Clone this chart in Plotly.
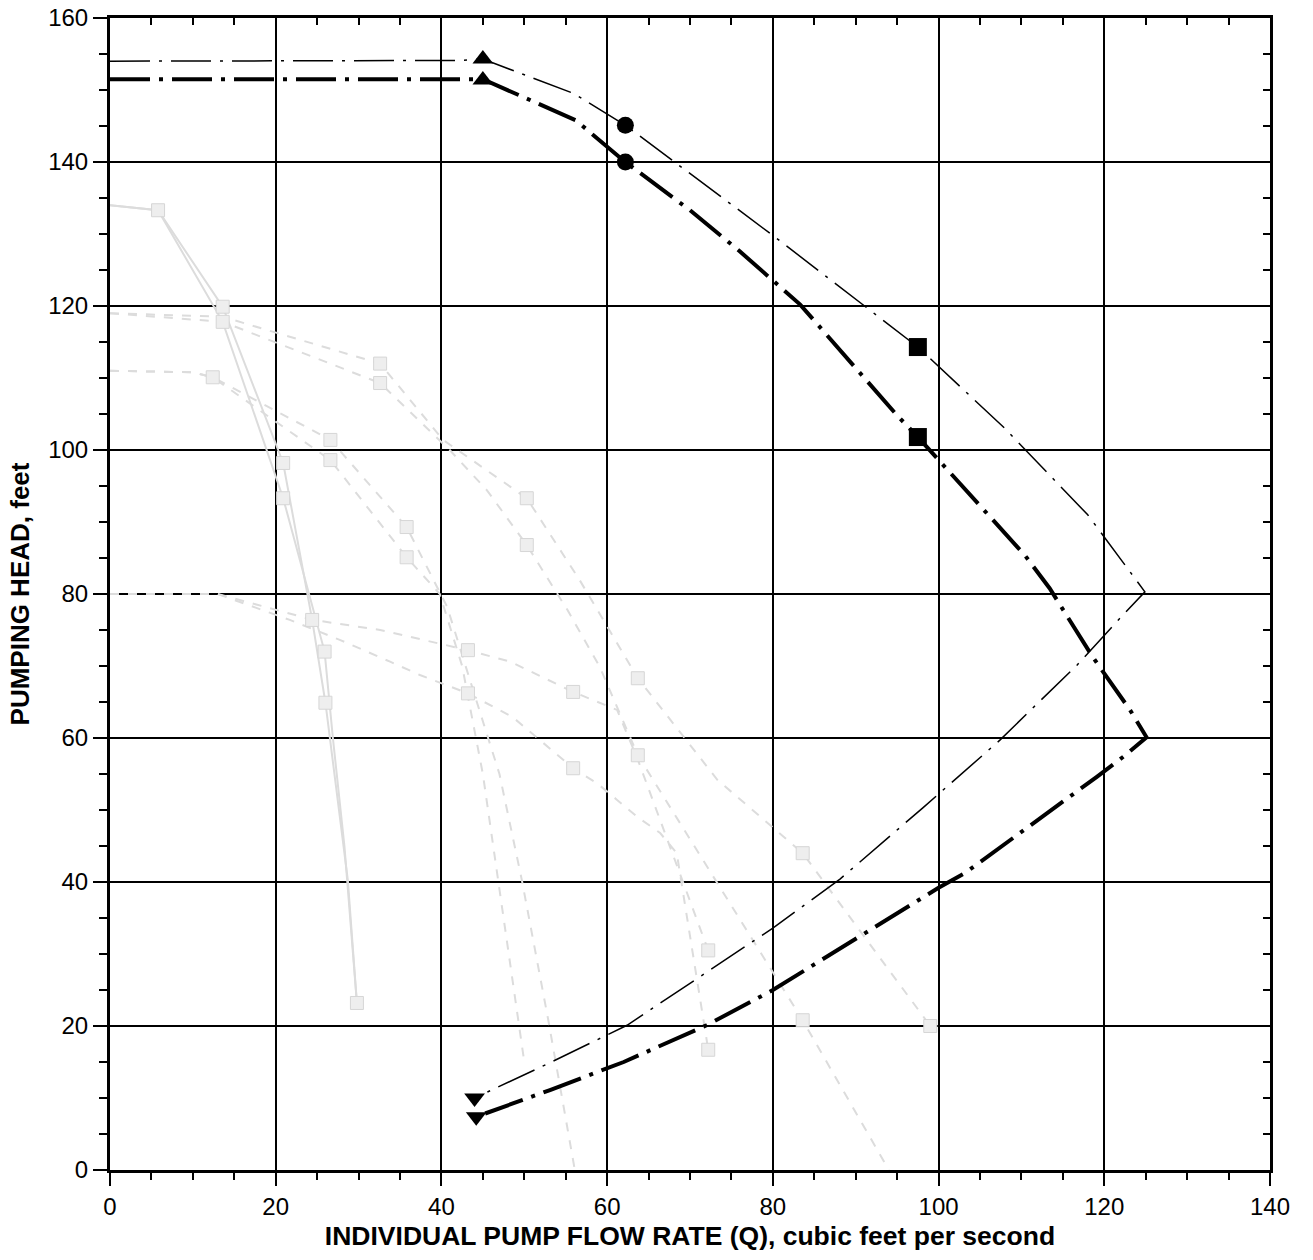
import plotly.graph_objects as go

# ---------------- dark system / pump curves ----------------
thin_x = [0, 42, 45, 56, 62.2, 80, 97.5, 108, 118, 124.9, 121.7, 116.7, 111.4, 107.4, 98.1, 88.1, 80, 62.4, 53.1, 44]
thin_y = [154, 154.1, 154.3, 149.5, 145.1, 129.8, 114.3, 103, 91, 80.3, 76.4, 70.1, 64.2, 59.7, 50.3, 40.4, 33.6, 20.1, 14.9, 10]

thick_x = [0, 45, 56.2, 62.2, 70, 76, 83.3, 90, 95, 97.5, 107.4, 110.4, 113.4, 118.6, 123.1, 125.1,
           122.3, 119.1, 103.2, 100, 80, 72, 62, 53.1, 44.2]
thick_y = [151.5, 151.5, 145.8, 140, 133.3, 127.6, 120.2, 111.4, 104.8, 101.8, 89.3, 85.4, 80.8, 71.25, 63.9, 60.1,
           57.4, 54.6, 41.25, 39.2, 25, 20.1, 15, 11.1, 7.4]

tri_up_x = [45, 45]
tri_up_y = [154.3, 151.4]
circ_x = [62.2, 62.2]
circ_y = [145.1, 140.0]
sq_x = [97.5, 97.5]
sq_y = [114.3, 101.8]
tri_dn_x = [44, 44.2]
tri_dn_y = [10, 7.4]

# ---------------- faint background curves ----------------
p1a_x = [0, 5.8, 13.6, 20.9, 24.4, 26.0, 28.7, 29.8]
p1a_y = [134, 133.3, 119.9, 98.2, 76.4, 64.9, 40.3, 23.2]
p1b_x = [0, 5.8, 13.6, 20.9, 25.9, 26.9, 28.3, 29.8]
p1b_y = [134, 133.3, 117.8, 93.3, 72.0, 60.0, 44.9, 23.2]

p2a_x = [0, 13.6, 32.6, 40.2, 50.3, 56.7, 63.7, 73.3, 83.6, 99.0]
p2a_y = [119, 118.5, 112, 101.4, 93.3, 81.9, 68.3, 54.2, 44.0, 20.0]
p2b_x = [0, 13.6, 32.6, 41, 45.5, 50.3, 55.2, 59.1, 63.7, 83.6, 94.0]
p2b_y = [119, 117.8, 109.3, 100, 94.4, 86.8, 77.8, 69.9, 57.6, 20.8, 0]

p3a_x = [0, 10, 12.4, 26.6, 35.8, 40.7, 44, 47, 49.7, 52.9, 56.1]
p3a_y = [111, 110.8, 110.1, 101.4, 89.3, 78.2, 66, 55, 40.3, 20.8, 0]
p3b_x = [0, 10, 12.4, 26.6, 35.8, 39.8, 42.5, 45, 47.5, 50]
p3b_y = [111, 110.8, 110.1, 98.6, 85.1, 80, 70, 55, 35, 15]

p4a_x = [0, 13, 24.5, 32.6, 43.2, 48.3, 55.9, 61.2, 63.7, 67, 72.2]
p4a_y = [80, 80, 76.4, 75, 72.2, 70.6, 66.4, 63.9, 57, 46.8, 30.5]
p4b_x = [0, 13, 21.7, 27.8, 33.8, 37.4, 43.2, 48.6, 55.9, 58.8, 61.2, 63.7, 66.4, 68.4, 72.2]
p4b_y = [80, 80, 76.4, 73.6, 70.6, 68.75, 66.2, 62.9, 55.8, 53.7, 51.4, 49, 46.8, 44, 16.7]

faint_mk_x = [5.8, 13.6, 13.6, 12.4, 20.9, 20.9, 26.6, 26.6, 32.6, 32.6, 24.4, 25.9, 26.0, 35.8, 35.8,
              43.2, 43.2, 50.3, 50.3, 55.9, 55.9, 63.7, 63.7, 83.6, 83.6, 29.8, 72.2, 72.2, 99.0]
faint_mk_y = [133.3, 119.9, 117.8, 110.1, 98.2, 93.3, 101.4, 98.6, 112, 109.3, 76.4, 72.0, 64.9, 89.3, 85.1,
              72.2, 66.2, 93.3, 86.8, 66.4, 55.8, 68.3, 57.6, 44.0, 20.8, 23.2, 30.5, 16.7, 20.0]

x_ticks = [0, 20, 40, 60, 80, 100, 120, 140]
y_ticks = [0, 20, 40, 60, 80, 100, 120, 140, 160]
x_title = "INDIVIDUAL PUMP FLOW RATE (Q), cubic feet per second"
y_title = "PUMPING HEAD, feet"

FONT = "Liberation Sans, Arial, sans-serif"
fig = go.Figure()

faint = [(p1a_x, p1a_y, "solid"), (p1b_x, p1b_y, "solid"), (p2a_x, p2a_y, "dash"), (p2b_x, p2b_y, "dash"),
         (p3a_x, p3a_y, "dash"), (p3b_x, p3b_y, "dash"), (p4a_x, p4a_y, "dash"), (p4b_x, p4b_y, "dash")]
for fx, fy, ds in faint:
    fig.add_trace(go.Scatter(x=fx, y=fy, mode="lines", showlegend=False, hoverinfo="skip",
                             line=dict(color="#dcdcdc", width=2, dash=ds)))
fig.add_trace(go.Scatter(x=faint_mk_x, y=faint_mk_y, mode="markers", showlegend=False, hoverinfo="skip",
                         marker=dict(symbol="square", size=13, color="#eeeeee",
                                     line=dict(color="#d6d6d6", width=1))))

fig.add_trace(go.Scatter(x=thin_x, y=thin_y, mode="lines", showlegend=False,
                         line=dict(color="black", width=1.5, dash="40px,9px,3px,9px")))
fig.add_trace(go.Scatter(x=thick_x, y=thick_y, mode="lines", showlegend=False,
                         line=dict(color="black", width=4, dash="40px,9px,4px,9px")))

for mx, my, sym, sz in [(tri_up_x, tri_up_y, "triangle-up", 18), (circ_x, circ_y, "circle", 17),
                        (sq_x, sq_y, "square", 18), (tri_dn_x, tri_dn_y, "triangle-down", 18)]:
    fig.add_trace(go.Scatter(x=mx, y=my, mode="markers", showlegend=False,
                             marker=dict(symbol=sym, size=sz, color="black")))

# invisible trace for the mirror axes
fig.add_trace(go.Scatter(x=[0, 140], y=[0, 160], xaxis="x2", yaxis="y2", mode="markers",
                         marker=dict(opacity=0), showlegend=False, hoverinfo="skip"))

fig.update_layout(
    width=1313, height=1260,
    margin=dict(l=110, r=43, t=18, b=90),
    paper_bgcolor="white", plot_bgcolor="white",
    font=dict(family=FONT, color="black", size=24),
    xaxis=dict(range=[0, 140], tickvals=x_ticks, ticktext=[str(v) for v in x_ticks], automargin=False,
               showgrid=True, gridcolor="black", gridwidth=2, zeroline=False,
               showline=True, linecolor="black", linewidth=3, mirror=True,
               ticks="outside", ticklen=13, tickwidth=2, tickcolor="black",
               minor=dict(dtick=5, tick0=0, ticks="outside", ticklen=7, tickwidth=1.5,
                          tickcolor="black", showgrid=False),
               tickfont=dict(size=24, family=FONT),
               title=dict(text="<b>" + x_title + "</b>", font=dict(size=26.5, family=FONT), standoff=8)),
    yaxis=dict(range=[0, 160], tickvals=y_ticks, ticktext=[str(v) for v in y_ticks], automargin=False,
               showgrid=True, gridcolor="black", gridwidth=2, zeroline=False,
               showline=True, linecolor="black", linewidth=3, mirror=True,
               ticks="outside", ticklen=14, tickwidth=2, tickcolor="black",
               minor=dict(dtick=5, tick0=0, ticks="outside", ticklen=8, tickwidth=1.5,
                          tickcolor="black", showgrid=False),
               tickfont=dict(size=24, family=FONT),
               title=dict(text="<b>" + y_title + "</b>", font=dict(size=26, family=FONT), standoff=12)),
    xaxis2=dict(range=[0, 140], overlaying="x", side="top", showgrid=False, zeroline=False, automargin=False,
                showticklabels=False, ticks="inside", ticklen=7, tickwidth=1.5, dtick=5, tick0=0,
                tickcolor="black", showline=False),
    yaxis2=dict(range=[0, 160], overlaying="y", side="right", showgrid=False, zeroline=False, automargin=False,
                showticklabels=False, ticks="inside", ticklen=7, tickwidth=1.5, dtick=5, tick0=0,
                tickcolor="black", showline=False),
)

fig.write_html("out.html")
